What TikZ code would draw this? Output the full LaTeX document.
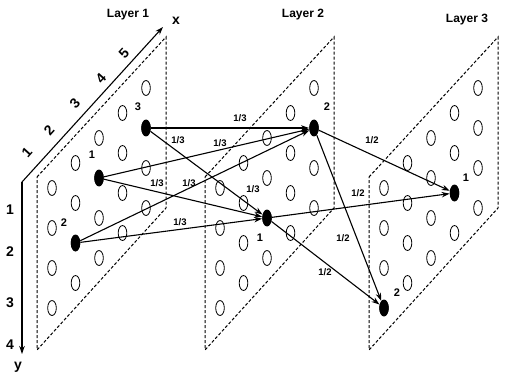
\documentclass[tikz,border=0pt]{standalone}
\usepackage{fontspec}
\setmainfont{Liberation Sans}
\usetikzlibrary{arrows.meta,shapes.geometric}
\begin{document}
\begin{tikzpicture}[x=1pt,y=-1pt,
  layerline/.style={dash pattern=on 3pt off 2pt, line width=1pt},
  hole/.style={line width=0.8pt},
  neuron/.style={ellipse, fill=black, inner sep=0pt, minimum width=9.5pt, minimum height=17pt},
  conn/.style={line width=1.1pt, -{Stealth[length=8pt,width=5.5pt]}},
  axisline/.style={line width=1.1pt, -{Stealth[length=8pt,width=5.5pt]}},
  wlab/.style={font=\bfseries\fontsize{9.5}{10}\selectfont, inner sep=0pt},
  nlab/.style={font=\bfseries\fontsize{11}{12}\selectfont, inner sep=0pt},
  axlab/.style={font=\bfseries\fontsize{14}{16}\selectfont, inner sep=0pt},
  ttl/.style={font=\bfseries\fontsize{12}{14}\selectfont, inner sep=0pt}
]
\useasboundingbox (0,0) rectangle (505,374);

% layers
\foreach \xo in {37,205,369} {
  \draw[layerline] (\xo,177) -- ({\xo+129},37) -- ({\xo+129},208) -- (\xo,350) -- cycle;
  \foreach \c in {1,...,5} {
    \foreach \r in {1,...,4} {
      \draw[hole] ({\xo+15+(\c-1)*23.5},{188-(\c-1)*25+(\r-1)*40}) ellipse (4.3 and 7.5);
    }
  }
}

% titles
\node[ttl] (t1) at (128,15) {Layer 1};
\node[ttl] (t2) at (303,15) {Layer 2};
\node[ttl] (t3) at (467,20) {Layer 3};

% axes
\coordinate (o) at (22,182);
\coordinate (xe) at (163,27);
\coordinate (ye) at (22,354);
\draw[axisline] (o) -- (xe);
\draw[axisline] (o) -- (ye);
\node[axlab] (xl) at (176,21) {x};
\node[axlab] (yl) at (18,367) {y};
\node[axlab,rotate=48] (x1) at (27,152) {1};
\node[axlab,rotate=48] (x2) at (49,130) {2};
\node[axlab,rotate=48] (x3) at (75,103) {3};
\node[axlab,rotate=48] (x4) at (101,78) {4};
\node[axlab,rotate=48] (x5) at (124,53) {5};
\node[axlab] (y1) at (10,210) {1};
\node[axlab] (y2) at (10,252) {2};
\node[axlab] (y3) at (10,303) {3};
\node[axlab] (y4) at (10,345) {4};

% neurons
\node[neuron] (a3) at (146,128) {};
\node[neuron] (a1) at (99,178) {};
\node[neuron] (a2) at (75.5,243) {};
\node[neuron] (b2) at (314,128) {};
\node[neuron] (b1) at (267,218) {};
\node[neuron] (c1) at (454.5,193) {};
\node[neuron] (c2) at (384,308) {};

\node[nlab] (la3) at (138,107) {3};
\node[nlab] (la1) at (92,155) {1};
\node[nlab] (la2) at (64,223) {2};
\node[nlab] (lb2) at (327,107) {2};
\node[nlab] (lb1) at (260,238) {1};
\node[nlab] (lc1) at (466,178) {1};
\node[nlab] (lc2) at (397,293) {2};

% connections
\draw[conn] (a3) -- (b2);
\draw[conn] (a3) -- (b1);
\draw[conn] (a1) -- (b2);
\draw[conn] (a1) -- (b1);
\draw[conn] (a2) -- (b2);
\draw[conn] (a2) -- (b1);
\draw[conn] (b2) -- (c1);
\draw[conn] (b2) -- (c2);
\draw[conn] (b1) -- (c1);
\draw[conn] (b1) -- (c2);

% weights
\node[wlab] (w1) at (240,118) {1/3};
\node[wlab] (w2) at (178,140) {1/3};
\node[wlab] (w3) at (220,143) {1/3};
\node[wlab] (w4) at (157,183) {1/3};
\node[wlab] (w5) at (189,183) {1/3};
\node[wlab] (w6) at (180,222) {1/3};
\node[wlab] (w7) at (253,189) {1/3};
\node[wlab] (v1) at (372,140) {1/2};
\node[wlab] (v2) at (343,238) {1/2};
\node[wlab] (v3) at (358,193) {1/2};
\node[wlab] (v4) at (325,272) {1/2};
\end{tikzpicture}
\end{document}
